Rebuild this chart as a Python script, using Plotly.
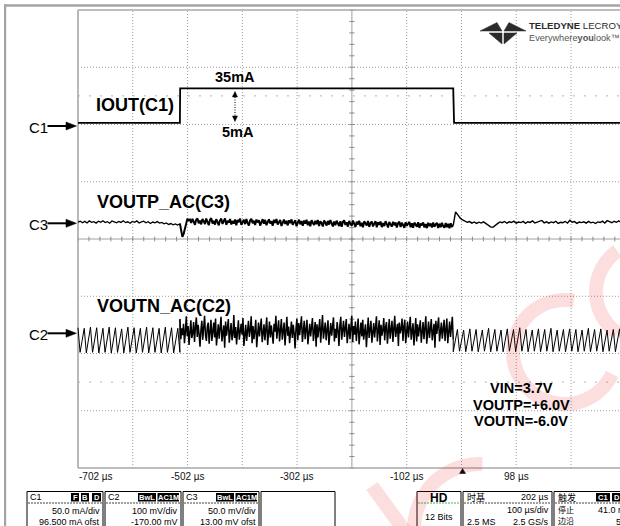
import math
import numpy as np
import plotly.graph_objects as go

W, H = 620, 526
FONT = "Liberation Sans, Arial, sans-serif"
CJK = "Noto Sans CJK SC, Liberation Sans, sans-serif"

# ---------------- data ----------------
TIME_TICKS_US = [-702, -502, -302, -102, 98, 298]
TIME_TICK_LABELS = ["-702 µs", "-502 µs", "-302 µs", "-102 µs", "98 µs", "298 µs"]
T_LEFT, T_RIGHT = -702, 298          # 100 µs/div, 10 div
T_STEP_UP, T_STEP_DOWN = -516, -17   # load step edges
TRIGGER_T = 0

# channel: (scale per div, offset)
C1_SCALE, C1_OFST = 50.0, 96.5    # mA/div, mA
C2_SCALE, C2_OFST = 100.0, -170.0  # mV/div, mV
C3_SCALE, C3_OFST = 50.0, 13.0     # mV/div, mV

# IOUT (C1), mA
C1_t = [-702, -516, -515.5, -17, -15.5, 298]
C1_mA = [5, 5, 35, 35, 5, 5]

# VOUTN AC (C2), mV : before step / during 35 mA load / after step
C2_pre_mV = [15, -28, -7, 14, -29, -8, 16, -28, -6, 15, -29, -7, 14, -28, -8, 16,
             -29, -6, 15, -28, -7, 13, -29, -8, 16, -28, -6, 15, -29, -7, 14, -28,
             -8, 16, -29, -6, 15, -28, -7, 14, -29, -8, 16, -28, -6, 15, -29, -7,
             14, -28]
C2_load_mV = [30, -5, 14, 2, 22, -12, 8, 35, 0, 18,
              -15, 12, 28, -3, 5, 25, -10, 16, 33, -1,
              20, 4, -18, 11, 27, -6, 15, 36, 2, -8,
              17, 24, -13, 6, 29, -8, 13, 24, -2, 31,
              -16, 9, 21, -4, 18, 34, -9, 7, 19, -20,
              26, 1, 14, 30, -11, 10, 23, -7, 3, 37,
              -3, 16, -14, 8, 28, -6, 12, 22, 3, 32,
              -17, 5, 20, -8, 15, 27, -1, 11, 35, -12,
              18, -5, 9, 29, -19, 13, 24, 0, 16, 31,
              -10, 7, 21, -7, 14, 33, -15, 10, 26, -2,
              19, 4, -13, 22, 8, 36, -4, 12, 28, -9,
              15, 30, -6, 6, 24, -16, 11, 34, 1, 17,
              -12, 9, 26, -3, 20, 5, -21, 14, 31, -7,
              23, 2, 16, 35, -10, 8, 27, -5, 13, 29,
              -14, 10, 22, 0, 18, 32, -8, 6, 25, -18,
              21, -2, 12, 30, -11, 15, 37, -4, 9, 24,
              -7, 17, 28, -15, 7, 23, 1, 19, 33, -9,
              13, -3, 25, 10, -17, 20, 34, -6, 11, 27,
              -1, 16, 30, -12, 8, 22, -5, 14, 36, -10,
              18, 3, 26, -8, 12, 31, -14, 9, 24, 0,
              29, -6, 15, 21, -19, 10, 33, -3, 17, 27,
              -11, 6, 23, -2, 19, 35, -9, 13, 28, -15,
              20, 1, 11, 32, -7, 16, 25, -13, 8, 30,
              -4, 18, 27, -10, 14, 36, -1, 9, 22, -17,
              24, 5, 13, 31, -8, 17, 29, -12, 7, 26,
              -2, 19, 34, -6, 11, 23, -16, 15, 32, -9,
              21, 0, 14, 28, -11, 9, 25, -5, 18, 35,
              -13, 12, 26, -3, 16, 30, -7, 8, 22, -20,
              27, 4, 15, 33, -9, 12, 24, -4, 19, 29,
              -8, 14, 31, -12, 10, 26, -1, 17, 34, -6]
C2_post_mV = [-27, -8, 12, -26, -7, 11, -27, -9, 13, -26, -8, 12, -27, -7, 11, -26,
              -8, 14, -27, -9, 12, -26, -7, 11, -27, -8, 13, -26, -9, 12, -27, -7,
              15, -26, -8, 12, -27, -9, 11, -26, -7, 13, -27, -8, 12, -26, -9, 14,
              -27, -7, 11, -26, -8, 12, -27, -9, 13, -26, -7, 12, -27, -8, 11, -26,
              -9, 14, -27, -7, 12, -26, -8, 13, -27, -9, 11, -26, -7, 12, -27, -8,
              13, -26, -9, 12]

# VOUTP AC (C3), mV
C3_pre_mV = [1.8, 2.6, 1.2, 2.4, 1.0, 2.8, 1.6, 2.2, 0.9, 2.5, 1.7, 3.0, 1.4, 2.1,
             0.8, 2.7, 1.9, 1.1, 2.4, 1.5, 2.9, 1.3, 2.0, 0.7, 2.3, 1.6, 2.8, 1.0,
             1.9, 2.5, 1.2, 2.1, 0.6, 1.8, 1.1, 2.2, 0.9, 1.5, 0.2, 1.0, -0.3, 0.5,
             -0.6, 0.2, -0.8, 0.3]
C3_load_mV = [0.5, -7.0, -11.2, -8.5, -3.5, 1.5, 4.8, 3.2, 4.0, 1.0,
              4.6, 2.2, -0.6, 3.9, 5.0, 0.8, 3.1, -0.2, 4.4,
              2.6, 0.1, 4.9, 1.4, -0.9, 3.6, 5.2, 0.6, 2.8, -0.4,
              4.3, 1.9, -1.1, 3.3, 4.7, 0.2, 2.4, 5.0, -0.7, 3.0,
              1.2, 4.5, -0.3, 2.7, 0.4, 4.1, -1.0, 3.5, 1.7, 4.8,
              -0.5, 2.2, 3.9, 0.0, 4.4, 1.1, -1.2, 3.2, 4.6, 0.7,
              2.9, -0.8, 4.0, 1.5, 3.4, -1.3, 2.5, 4.3, 0.3, 3.7,
              -0.9, 1.8, 4.2, 0.5, 2.6, -1.5, 3.8, 1.0, 4.5, -0.4,
              2.1, 3.6, -1.6, 1.3, 4.0, 0.1, 2.9, -1.1, 3.3, 0.8,
              4.1, -0.6, 2.4, 3.5, -1.8, 1.6, 3.9, -0.2, 2.7, -1.4,
              3.1, 0.4, 3.8, -1.0, 2.2, -1.9, 3.4, 1.2, -0.8, 2.9,
              0.0, 3.6, -1.7, 2.5, 0.9, -2.1, 3.2, 1.4, -1.2, 2.8,
              -0.4, 3.5, 0.6, -2.0, 2.3, -0.9, 3.0, 1.1, -1.6, 2.6,
              -2.3, 1.9, 3.3, -0.7, 1.5, -2.2, 2.7, 0.3, -1.4, 3.1,
              0.8, -2.5, 2.1, -0.3, 2.9, -1.9, 1.2, -2.7, 2.4, 0.5,
              -1.3, 2.8, -2.4, 1.0, 2.2, -2.0, 0.4, 2.6, -2.8, 1.7,
              -0.6, 2.3, -2.6, 0.9, -1.7, 2.5, -0.1, -2.9, 1.8, 0.2,
              -2.2, 2.0, -1.0, 1.4, -3.0, 0.7, 2.1, -2.5, 1.1, -0.8,
              -3.2, 1.6, -1.5, 0.3, 1.9, -2.7, 0.8, -3.1, 1.3, -0.4,
              -2.4, 1.7, -3.3, 0.5, -1.1, 1.5, -2.9, 0.1, -3.5, 1.2,
              -1.8, 0.6, -3.0, 1.4, -2.3, -0.2, 1.0, -3.4, 0.4, -2.6,
              1.1, -1.9, -3.1, 0.9, -2.7, 0.2, -3.6, 0.7, -2.0, -1.0]
C3_post_mV = [-1.0, 10.6, 8.0, 5.2, 3.6, 2.4, 1.6, 2.2, 0.8, 1.9,
              0.6, 1.7, 0.9, 2.0, 0.5, -0.8, -2.4, -2.8, -1.5, 0.4,
              1.9, 1.2, 2.3, 0.8, 2.0, 1.4, 2.6, 0.9, 1.8, 1.3,
              2.4, 0.7, 2.1, 1.5, 2.8, 1.0, 1.7, 2.2, 3.2, 1.1,
              2.0, 0.8, 1.9, 1.3, 2.5, 0.6, 1.6, 1.2, 2.3, 0.9,
              3.4, 1.6, 2.2, 0.7, 1.8, 1.3, 2.0, 0.9, 2.4, 1.1,
              1.7, 0.5, 1.9, 1.4, 2.6, 1.0, 3.0, 2.1, 1.2, 2.5,
              1.6, 2.8, 1.4, 2.2, 1.9]

# ---------------- geometry (screen layout) ----------------
PX_X0 = 78.0          # pixel of left graticule edge
PX_DIV_X = 54.78      # pixels per horizontal division
PX_YC = 239.0         # pixel of vertical centre
PX_DIV_Y = 57.25      # pixels per vertical division
US_PER_DIV = 100.0

x_range = [T_LEFT - PX_X0 / PX_DIV_X * US_PER_DIV,
           T_LEFT + (W - PX_X0) / PX_DIV_X * US_PER_DIV]
div_range = [-(H - PX_YC) / PX_DIV_Y, PX_YC / PX_DIV_Y]


def ch_range(scale, ofst):
    return [d * scale - ofst for d in div_range]


def seg_t(t0, t1, vals):
    return np.linspace(t0, t1, len(vals))


def P(x, y):
    return x / W, 1 - y / H


def txt(x, y, s, size=10, bold=False, color="#000", xanchor="center", family=FONT):
    px, py = P(x, y)
    return dict(x=px, y=py, xref="paper", yref="paper",
                text=f"<b>{s}</b>" if bold else s, showarrow=False,
                xanchor=xanchor, yanchor="middle", borderpad=0,
                font=dict(size=size, color=color, family=family))


def ppath(pts, close=False):
    s = ""
    for i, (x, y) in enumerate(pts):
        px, py = P(x, y)
        s += ("M" if i == 0 else "L") + f"{px:.5f},{py:.5f} "
    return s + ("Z" if close else "")


def prect(x0, y0, x1, y1, color="#000", width=1, fill=None, layer="above", dash=None):
    a, b = P(x0, y0)
    c, d = P(x1, y1)
    ln = dict(color=color, width=width)
    if dash:
        ln["dash"] = dash
    return dict(type="rect", xref="paper", yref="paper", x0=a, y0=b, x1=c, y1=d,
                line=ln, fillcolor=fill or "rgba(0,0,0,0)", layer=layer)


def pline(x0, y0, x1, y1, color="#000", width=1, dash=None, layer="above"):
    a, b = P(x0, y0)
    c, d = P(x1, y1)
    ln = dict(color=color, width=width)
    if dash:
        ln["dash"] = dash
    return dict(type="line", xref="paper", yref="paper", x0=a, y0=b, x1=c, y1=d,
                line=ln, layer=layer)


fig = go.Figure()


def add(x, y, axis, width):
    fig.add_trace(go.Scatter(x=x, y=y, yaxis=axis, mode="lines",
                             line=dict(color="#000", width=width), hoverinfo="skip"))


# ---------------- traces ----------------
add(C1_t, C1_mA, "y2", 1.8)

add(seg_t(T_LEFT, T_STEP_UP, C3_pre_mV), C3_pre_mV, "y4", 1.3)
add(seg_t(T_STEP_UP, T_STEP_DOWN, C3_load_mV), C3_load_mV, "y4", 2.0)
add(seg_t(T_STEP_DOWN, T_RIGHT, C3_post_mV), C3_post_mV, "y4", 1.4)

add(seg_t(T_LEFT, T_STEP_UP, C2_pre_mV), C2_pre_mV, "y3", 1.0)
add([T_STEP_UP, T_STEP_UP], [C2_pre_mV[-1], C2_load_mV[0]], "y3", 1.0)
add(seg_t(T_STEP_UP, T_STEP_DOWN, C2_load_mV), C2_load_mV, "y3", 1.5)
add([T_STEP_DOWN, T_STEP_DOWN], [C2_load_mV[-1], C2_post_mV[0]], "y3", 1.0)
add(seg_t(T_STEP_DOWN, T_RIGHT, C2_post_mV), C2_post_mV, "y3", 1.0)

# ---------------- graticule ----------------
shapes = []
GRID = "#9c9c9c"
for k in range(1, 10):
    t = T_LEFT + k * US_PER_DIV
    solid = (k == 5)
    shapes.append(dict(type="line", xref="x", yref="y", x0=t, x1=t, y0=-4, y1=4,
                       line=dict(color="#a0a0a0" if solid else GRID, width=1,
                                 dash=None if solid else "1px,2px"), layer="below"))
for d in range(-3, 4):
    solid = (d == 0)
    shapes.append(dict(type="line", xref="x", yref="y", x0=T_LEFT, x1=T_RIGHT, y0=d, y1=d,
                       line=dict(color="#a0a0a0" if solid else GRID, width=1,
                                 dash=None if solid else "1px,2px"), layer="below"))
for d in (2.5, -2.5):
    shapes.append(dict(type="line", xref="x", yref="y", x0=T_LEFT, x1=T_RIGHT, y0=d, y1=d,
                       line=dict(color="#b4b4b4", width=1, dash="2px,9px"), layer="below"))
# centre-line ticks
tick_h = 2.3 / PX_DIV_Y
tick_w = 2.6 / PX_DIV_X * US_PER_DIV
pth = ""
for i in range(0, 51):
    t = T_LEFT + i * US_PER_DIV / 5
    pth += f"M{t},{-tick_h} L{t},{tick_h} "
for i in range(-20, 21):
    d = i / 5
    tc = T_LEFT + 5 * US_PER_DIV
    pth += f"M{tc - tick_w},{d} L{tc + tick_w},{d} "
shapes.append(dict(type="path", xref="x", yref="y", path=pth,
                   line=dict(color="#8a8a8a", width=1), layer="below"))
# border
for (x0, y0, x1, y1) in [(T_LEFT, -4, T_LEFT, 4), (T_LEFT, 4, T_RIGHT, 4), (T_LEFT, -4, T_RIGHT, -4)]:
    shapes.append(dict(type="line", xref="x", yref="y", x0=x0, x1=x1, y0=y0, y1=y1,
                       line=dict(color="#a8a8a8", width=1.6), layer="below"))

# window frame (grey bar top & left)
shapes.append(prect(4, 4.3, 640, 6.7, color="rgba(0,0,0,0)", width=0, fill="#a4a4a4"))
shapes.append(prect(4, 4.3, 6.2, 540, color="rgba(0,0,0,0)", width=0, fill="#a4a4a4"))

# ---------------- annotations ----------------
ann = []
ann.append(txt(134.5, 105, "IOUT(C1)", 18, True))
ann.append(txt(163.5, 202, "VOUTP_AC(C3)", 18, True))
ann.append(txt(163.5, 305.5, "VOUTN_AC(C2)", 18, True))
ann.append(txt(235, 76.5, "35mA", 14.5, True))
ann.append(txt(238, 131.5, "5mA", 14.5, True))
# dotted double arrow between levels
shapes.append(pline(235, 97, 235, 116, width=1, dash="1px,1.5px"))
shapes.append(dict(type="path", xref="paper", yref="paper",
                   path=ppath([(232.5, 97), (235, 91.5), (237.5, 97)], True),
                   fillcolor="#000", line=dict(color="#000", width=0.5)))
shapes.append(dict(type="path", xref="paper", yref="paper",
                   path=ppath([(232.5, 116), (235, 121.5), (237.5, 116)], True),
                   fillcolor="#000", line=dict(color="#000", width=0.5)))

ann.append(txt(521, 388, "VIN=3.7V", 14.5, True))
ann.append(txt(521, 404.5, "VOUTP=+6.0V", 14.5, True))
ann.append(txt(521, 421, "VOUTN=-6.0V", 14.5, True))

# channel ground markers
for name, y in [("C1", 126), ("C3", 223.3), ("C2", 333.3)]:
    ann.append(txt(38, y + 1, name, 15))
    shapes.append(pline(47.5, y, 68, y, width=2))
    shapes.append(dict(type="path", xref="paper", yref="paper",
                       path=ppath([(66, y - 4), (76.5, y), (66, y + 4)], True),
                       fillcolor="#000", line=dict(color="#000", width=0.5)))

# time-axis labels
for i, (t, lab) in enumerate(zip(TIME_TICKS_US, TIME_TICK_LABELS)):
    xa = "left" if i == 0 else ("right" if i == len(TIME_TICKS_US) - 1 else "center")
    ann.append(dict(x=t, y=P(0, 476)[1], xref="x", yref="paper", text=lab,
                    showarrow=False, xanchor=xa, yanchor="middle", borderpad=0,
                    font=dict(size=10, color="#111", family=FONT)))
# trigger marker
tx = PX_X0 + (TRIGGER_T - T_LEFT) / US_PER_DIV * PX_DIV_X
shapes.append(dict(type="path", xref="paper", yref="paper",
                   path=ppath([(tx - 3, 473.5), (tx, 468.5), (tx + 3, 473.5)], True),
                   fillcolor="#000", line=dict(color="#000", width=0.5)))

# logo
logo_parts = [
    [(480, 31), (497, 22.5), (502, 31)],
    [(526, 31), (509, 22.5), (504, 31)],
    [(489, 33), (502, 33), (502, 44)],
    [(517, 33), (504, 33), (504, 44)],
]
for pts in logo_parts:
    shapes.append(dict(type="path", xref="paper", yref="paper", path=ppath(pts, True),
                       fillcolor="#2b2b2b", line=dict(color="#2b2b2b", width=0.5)))
ann.append(txt(528, 26, "<b>TELEDYNE</b> LECROY", 9.6, False, "#2b2b2b", "left"))
ann.append(txt(528, 37.5, "Everywhere<b>you</b>look™", 9.2, False, "#555", "left"))

# ---------------- bottom info panels ----------------
PT, PB, PSEP = 491.5, 560, 503
boxes = [(27, 103), (105, 181), (183, 259), (261, 335), (417, 461), (463, 552), (554, 660)]
for i, (a, b) in enumerate(boxes):
    shapes.append(prect(a, PT, b, PB, width=1, fill="#fff"))
    if i in (0, 1, 2, 5, 6):
        shapes.append(pline(a + 1, PSEP, b - 1, PSEP, color="#444", width=1, dash="2px,1px"))
shapes.append(pline(418, PSEP, 460, PSEP, color="#4caf50", width=1, dash="2px,1px"))


def tag(x0, x1, label):
    shapes.append(prect(x0, 493, x1, 501.5, color="#000", width=0, fill="#000"))
    ann.append(txt((x0 + x1) / 2, 497.5, label, 7.5, True, "#fff"))


tag(71, 79, "F")
tag(81, 89, "B")
tag(92, 101, "D")
tag(138, 156, "BwL")
tag(157.5, 179, "AC1M")
tag(216, 234, "BwL")
tag(235.5, 257, "AC1M")
tag(596, 610, "C1")
tag(612, 622, "D")

ann += [txt(29, 497, "C1", 9, xanchor="left"),
        txt(101, 510.5, "50.0 mA/div", 9, xanchor="right"),
        txt(101, 521.5, "96.500 mA ofst", 9, xanchor="right"),
        txt(107, 497, "C2", 9, xanchor="left"),
        txt(179, 510.5, "100 mV/div", 9, xanchor="right"),
        txt(179, 521.5, "-170.00 mV", 9, xanchor="right"),
        txt(185, 497, "C3", 9, xanchor="left"),
        txt(257, 510.5, "50.0 mV/div", 9, xanchor="right"),
        txt(257, 521.5, "13.00 mV ofst", 9, xanchor="right"),
        txt(439, 497.5, "HD", 12, True),
        txt(439, 516.5, "12 Bits", 9),
        txt(466, 497, "时基", 9, family=CJK, xanchor="left"),
        txt(550, 497, "202 µs", 9, xanchor="right"),
        txt(550, 510, "100 µs/div", 9, xanchor="right"),
        txt(466, 521.5, "2.5 MS", 9, xanchor="left"),
        txt(550, 521.5, "2.5 GS/s", 9, xanchor="right"),
        txt(557, 497, "触发", 9, family=CJK, xanchor="left"),
        txt(557, 509, "停止", 8, family=CJK, xanchor="left"),
        txt(597, 510, "41.0 mA", 9, xanchor="left"),
        txt(557, 520.8, "边沿", 8, family=CJK, xanchor="left"),
        txt(615, 521.5, "5", 9, xanchor="left")]

# ---------------- faint watermark ----------------
PINK = "rgba(232,20,20,0.14)"


def arc(cx, cy, r, a0, a1, n=60):
    return [(cx + r * math.cos(math.radians(a0 + (a1 - a0) * i / n)),
             cy + r * math.sin(math.radians(a0 + (a1 - a0) * i / n))) for i in range(n + 1)]


for pts in [arc(646, 292, 50, -125, -235), arc(565, 352, 52, -80, -335),
            arc(480, 530, 66, -88, -178), [(372, 486), (404, 530)]]:
    shapes.append(dict(type="path", xref="paper", yref="paper", path=ppath(pts),
                       line=dict(color=PINK, width=14), layer="above"))

# ---------------- layout ----------------
hid = dict(visible=False, showgrid=False, zeroline=False, fixedrange=True)
fig.update_layout(
    width=W, height=H, margin=dict(l=0, r=0, t=0, b=0),
    paper_bgcolor="#fff", plot_bgcolor="#fff", showlegend=False, hovermode=False,
    xaxis=dict(range=x_range, domain=[0, 1], **hid),
    yaxis=dict(range=div_range, domain=[0, 1], **hid),
    yaxis2=dict(range=ch_range(C1_SCALE, C1_OFST), overlaying="y", **hid),
    yaxis3=dict(range=ch_range(C2_SCALE, C2_OFST), overlaying="y", **hid),
    yaxis4=dict(range=ch_range(C3_SCALE, C3_OFST), overlaying="y", **hid),
    shapes=shapes, annotations=ann,
)
fig.write_html("out.html", config={"displayModeBar": False},
               post_script="document.body.style.margin='0';document.body.style.overflow='hidden';")
